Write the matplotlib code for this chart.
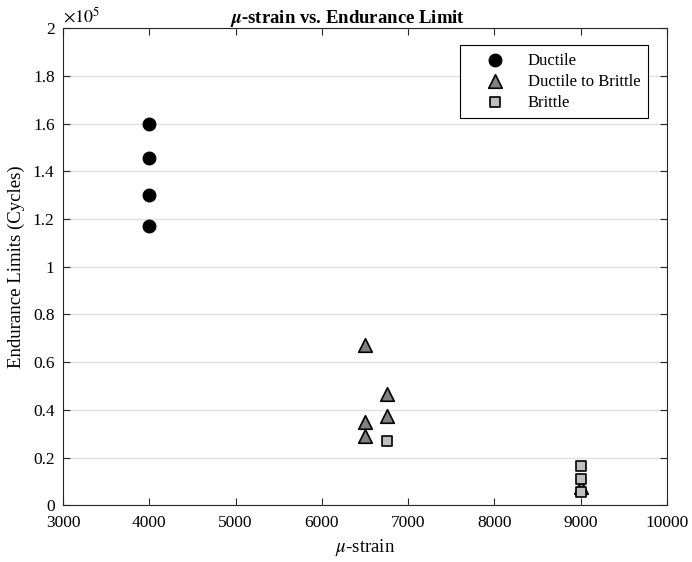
import numpy as np
import matplotlib.pyplot as plt
from matplotlib.ticker import FuncFormatter

plt.rcParams['font.family'] = ['Liberation Serif', 'DejaVu Serif']
plt.rcParams['mathtext.fontset'] = 'stix'

# data
ductile_x = [4000, 4000, 4000, 4000]
ductile_y = [1.60e5, 1.455e5, 1.30e5, 1.17e5]

d2b_x = [6500, 6500, 6500, 6750, 6750, 9000]
d2b_y = [0.67e5, 0.35e5, 0.29e5, 0.465e5, 0.375e5, 0.075e5]

brittle_x = [6750, 9000, 9000, 9000]
brittle_y = [0.27e5, 0.165e5, 0.11e5, 0.055e5]

x_ticks = [3000, 4000, 5000, 6000, 7000, 8000, 9000, 10000]
y_ticks = np.arange(0, 2.01e5, 0.2e5)

fig = plt.figure(figsize=(6.92, 5.62), dpi=100)
ax = fig.add_axes([0.091, 0.101, 0.873, 0.849])

ax.scatter(ductile_x, ductile_y, s=85, marker='o', c='black', edgecolors='black',
           linewidths=0.8, label='Ductile', zorder=3)
ax.scatter(d2b_x, d2b_y, s=95, marker='^', c='#808080', edgecolors='black',
           linewidths=1.2, label='Ductile to Brittle', zorder=3)
ax.scatter(brittle_x, brittle_y, s=55, marker='s', c='#bfbfbf', edgecolors='black',
           linewidths=1.2, label='Brittle', zorder=4)

ax.set_xlim(3000, 10000)
ax.set_ylim(0, 2e5)
ax.set_xticks(x_ticks)
ax.set_yticks(y_ticks)
ax.yaxis.set_major_formatter(FuncFormatter(lambda v, p: '%g' % round(v / 1e5, 1)))
ax.tick_params(direction='in', length=5, labelsize=12.5, top=True, right=True,
               width=0.8, color='#262626')
ax.tick_params(axis='x', pad=7)
ax.tick_params(axis='y', pad=6)
ax.grid(axis='y', color='#e0e0e0', linewidth=1.0)
ax.set_axisbelow(True)
for s in ax.spines.values():
    s.set_linewidth(0.8)
    s.set_color('#262626')

ax.text(0.0, 1.004, r'$\times 10^5$', transform=ax.transAxes, fontsize=13,
        ha='left', va='bottom')

ax.set_title(r'$\mathbfit{\mu}$-strain vs. Endurance Limit', fontsize=13.5,
             fontweight='bold', pad=4, x=0.471)
ax.set_xlabel(r'$\mu$-strain', fontsize=13.5, labelpad=4)
ax.set_ylabel('Endurance Limits (Cycles)', fontsize=13.5, labelpad=6)

leg = ax.legend(loc='upper right', bbox_to_anchor=(0.9685, 0.964), borderaxespad=0,
                fontsize=12, fancybox=False, framealpha=1, edgecolor='black',
                handlelength=3.3, handletextpad=0.35, borderpad=0.45,
                labelspacing=0.3)
leg.get_frame().set_linewidth(0.8)

plt.savefig('out.png', dpi=100)
